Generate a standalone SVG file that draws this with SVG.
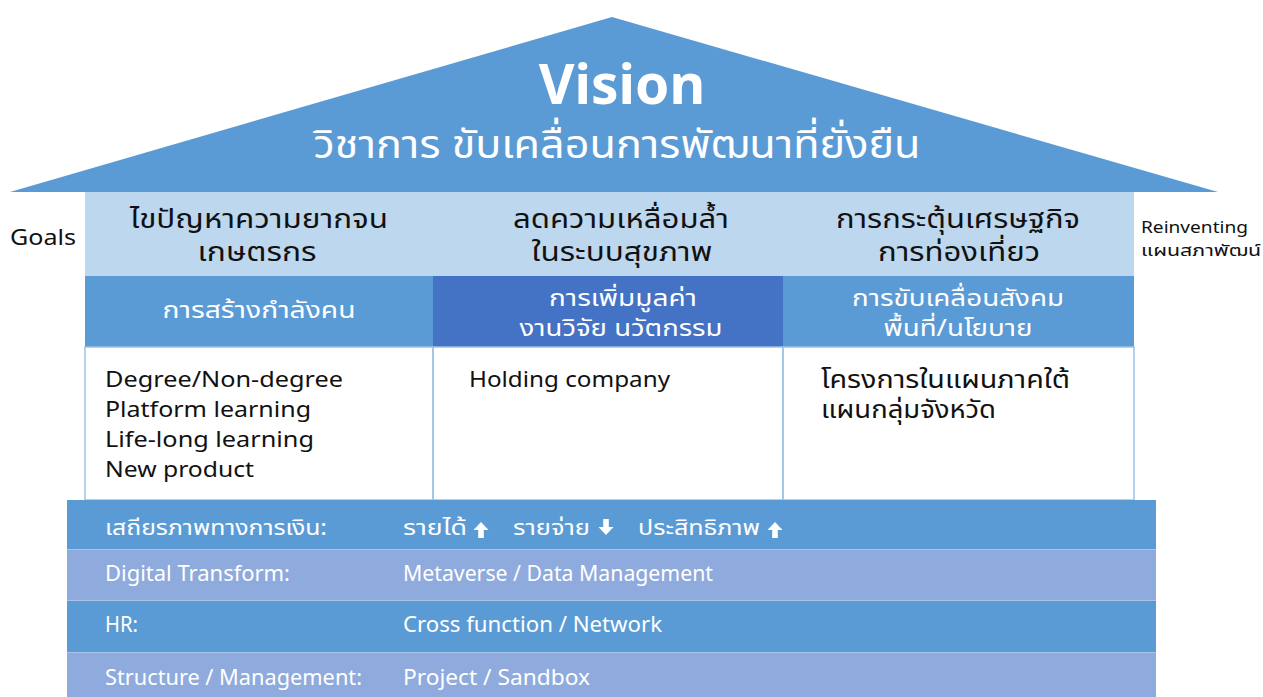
<svg xmlns="http://www.w3.org/2000/svg" width="1263" height="697" viewBox="0 0 1263 697">
<style>
text{font-family:"Noto Sans","Noto Sans Thai","Tahoma",sans-serif}
.w{fill:#ffffff}
.k{fill:#111111}
.goal{font-size:26px;text-anchor:middle}
.pil{font-size:23px;text-anchor:middle}
.item{font-size:22px}
.bar{font-size:21px}
.sep{stroke:#9dc3e6;stroke-width:1.5;fill:none}
</style>
<defs>
<path id="up" d="M0,-8 L7.5,0 L2.8,0 L2.8,8 L-2.8,8 L-2.8,0 L-7.5,0 Z" fill="#ffffff"/>
</defs>
<rect width="1263" height="697" fill="#ffffff"/>
<g id="roof">
<polygon points="10,192 612,17 1218,192" fill="#5b9bd5"/>
<text x="622" y="104" class="w" font-size="55" font-weight="bold" text-anchor="middle">Vision</text>
<text x="617" y="158" class="w" font-size="40" text-anchor="middle" textLength="607" lengthAdjust="spacingAndGlyphs">วิชาการ ขับเคลื่อนการพัฒนาที่ยั่งยืน</text>
</g>
<g id="goals">
<rect x="85" y="192" width="1049" height="84" fill="#bdd7ee"/>
<text x="10" y="245" class="k" font-size="22" textLength="66" lengthAdjust="spacingAndGlyphs">Goals</text>
<text x="259" y="228" class="k goal" textLength="258" lengthAdjust="spacingAndGlyphs">ไขปัญหาความยากจน</text>
<text x="257" y="261" class="k goal" textLength="119" lengthAdjust="spacingAndGlyphs">เกษตรกร</text>
<text x="621" y="228" class="k goal" textLength="216" lengthAdjust="spacingAndGlyphs">ลดความเหลื่อมล้ำ</text>
<text x="622" y="261" class="k goal" textLength="181" lengthAdjust="spacingAndGlyphs">ในระบบสุขภาพ</text>
<text x="958" y="228" class="k goal" textLength="244" lengthAdjust="spacingAndGlyphs">การกระตุ้นเศรษฐกิจ</text>
<text x="959" y="261" class="k goal" textLength="162" lengthAdjust="spacingAndGlyphs">การท่องเที่ยว</text>
<text x="1141" y="233" class="k" font-size="17" textLength="107" lengthAdjust="spacingAndGlyphs">Reinventing</text>
<text x="1141" y="256" class="k" font-size="16" textLength="120" lengthAdjust="spacingAndGlyphs">แผนสภาพัฒน์</text>
</g>
<g id="pillar1">
<rect x="85" y="276" width="348" height="71" fill="#5b9bd5"/>
<text x="259" y="318" class="w pil" textLength="193" lengthAdjust="spacingAndGlyphs">การสร้างกำลังคน</text>
<rect x="85" y="347" width="348" height="153" fill="#ffffff" class="sep"/>
<text x="105" y="387" class="k item" textLength="238" lengthAdjust="spacingAndGlyphs">Degree/Non-degree</text>
<text x="105" y="417" class="k item" textLength="206" lengthAdjust="spacingAndGlyphs">Platform learning</text>
<text x="105" y="447" class="k item" textLength="209" lengthAdjust="spacingAndGlyphs">Life-long learning</text>
<text x="105" y="477" class="k item" textLength="149" lengthAdjust="spacingAndGlyphs">New product</text>
</g>
<g id="pillar2">
<rect x="433" y="276" width="350" height="71" fill="#4472c4"/>
<text x="623" y="306" class="w pil" textLength="148" lengthAdjust="spacingAndGlyphs">การเพิ่มมูลค่า</text>
<text x="621" y="336" class="w pil" textLength="203" lengthAdjust="spacingAndGlyphs">งานวิจัย นวัตกรรม</text>
<rect x="433" y="347" width="350" height="153" fill="#ffffff" class="sep"/>
<text x="469" y="387" class="k item" textLength="201" lengthAdjust="spacingAndGlyphs">Holding company</text>
</g>
<g id="pillar3">
<rect x="783" y="276" width="351" height="71" fill="#5b9bd5"/>
<text x="958" y="306" class="w pil" textLength="212" lengthAdjust="spacingAndGlyphs">การขับเคลื่อนสังคม</text>
<text x="958" y="336" class="w pil" textLength="149" lengthAdjust="spacingAndGlyphs">พื้นที่/นโยบาย</text>
<rect x="783" y="347" width="351" height="153" fill="#ffffff" class="sep"/>
<text x="821" y="388" class="k" font-size="24" textLength="249" lengthAdjust="spacingAndGlyphs">โครงการในแผนภาคใต้</text>
<text x="821" y="418" class="k" font-size="24" textLength="175" lengthAdjust="spacingAndGlyphs">แผนกลุ่มจังหวัด</text>
</g>
<g id="foundation">
<rect x="67" y="500" width="1089" height="49" fill="#5b9bd5"/>
<rect x="67" y="549" width="1089" height="51" fill="#8faadc"/>
<rect x="67" y="600" width="1089" height="52" fill="#5b9bd5"/>
<rect x="67" y="652" width="1089" height="45" fill="#8faadc"/>
<g stroke="#a9c4ea" stroke-width="1">
<line x1="67" y1="549.5" x2="1156" y2="549.5"/>
<line x1="67" y1="600.5" x2="1156" y2="600.5"/>
<line x1="67" y1="652.5" x2="1156" y2="652.5"/>
</g>
<text x="105" y="535" class="w bar" textLength="222" lengthAdjust="spacingAndGlyphs">เสถียรภาพทางการเงิน:</text>
<text x="403" y="535" class="w bar" textLength="64" lengthAdjust="spacingAndGlyphs">รายได้</text>
<use href="#up" x="481" y="530"/>
<text x="513" y="535" class="w bar" textLength="77" lengthAdjust="spacingAndGlyphs">รายจ่าย</text>
<use href="#up" transform="translate(606,527) rotate(180)"/>
<text x="638" y="535" class="w bar" textLength="122" lengthAdjust="spacingAndGlyphs">ประสิทธิภาพ</text>
<use href="#up" x="775" y="530"/>
<text x="105" y="581" class="w bar" textLength="185" lengthAdjust="spacingAndGlyphs">Digital Transform:</text>
<text x="403" y="581" class="w bar" textLength="310" lengthAdjust="spacingAndGlyphs">Metaverse / Data Management</text>
<text x="105" y="632" class="w bar" textLength="33" lengthAdjust="spacingAndGlyphs">HR:</text>
<text x="403" y="632" class="w bar" textLength="259" lengthAdjust="spacingAndGlyphs">Cross function / Network</text>
<text x="105" y="685" class="w bar" textLength="257" lengthAdjust="spacingAndGlyphs">Structure / Management:</text>
<text x="403" y="685" class="w bar" textLength="187" lengthAdjust="spacingAndGlyphs">Project / Sandbox</text>
</g>
<g id="connectors"></g>
</svg>
